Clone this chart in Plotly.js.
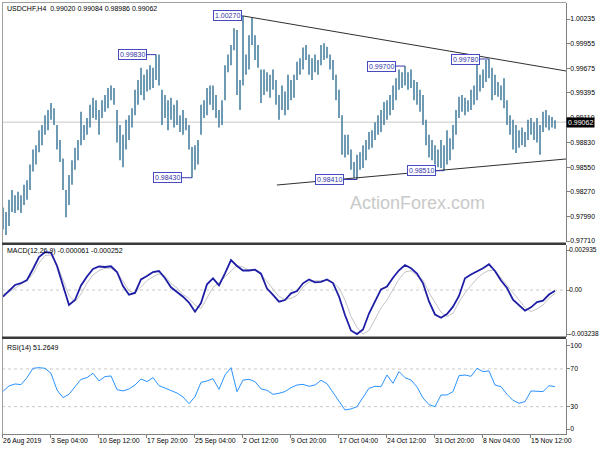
<!DOCTYPE html>
<html><head><meta charset="utf-8">
<script src="https://cdn.plot.ly/plotly-3.0.1.min.js"></script>
<style>html,body{margin:0;padding:0;background:#fff}#chart{width:600px;height:450px}</style>
</head><body><div id="chart"></div>
<script>
// ---- data ----
const symbolName = "USDCHF,H4";
const headerOHLC = [0.99020, 0.99084, 0.98986, 0.99062];
const barHigh = [
0.9809,0.9804,0.9818,0.9829,0.9823,0.9827,0.9823,0.9835,0.9840,0.9858,
0.9875,0.9880,0.9897,0.9903,0.9914,0.9920,0.9928,0.9922,0.9903,0.9886,
0.9865,0.9829,0.9846,0.9863,0.9877,0.9886,0.9918,0.9903,0.9911,0.9926,
0.9934,0.9931,0.9920,0.9931,0.9937,0.9945,0.9948,0.9945,0.9920,0.9903,
0.9892,0.9909,0.9914,0.9922,0.9943,0.9954,0.9968,0.9960,0.9966,0.9971,
0.9968,0.9983,0.9983,0.9943,0.9937,0.9931,0.9934,0.9926,0.9931,0.9914,
0.9920,0.9911,0.9903,0.9878,0.9880,0.9886,0.9926,0.9931,0.9945,0.9948,
0.9948,0.9937,0.9920,0.9931,0.9971,0.9983,0.9994,1.0013,1.0011,0.9954,
1.0027,0.9983,1.0005,1.0025,1.0005,0.9994,0.9966,0.9966,0.9963,0.9960,
0.9966,0.9954,0.9937,0.9948,0.9941,0.9960,0.9954,0.9960,0.9975,0.9979,
0.9991,0.9994,0.9983,0.9979,0.9983,0.9977,0.9994,0.9996,0.9992,0.9983,
0.9977,0.9960,0.9943,0.9914,0.9892,0.9892,0.9875,0.9861,0.9869,0.9872,
0.9880,0.9886,0.9895,0.9897,0.9906,0.9914,0.9920,0.9929,0.9931,0.9937,
0.9948,0.9956,0.9966,0.9963,0.9970,0.9963,0.9966,0.9954,0.9952,0.9943,
0.9937,0.9909,0.9892,0.9886,0.9880,0.9875,0.9886,0.9880,0.9897,0.9888,
0.9903,0.9920,0.9935,0.9937,0.9934,0.9931,0.9943,0.9948,0.9975,0.9960,
0.9966,0.9977,0.9978,0.9968,0.9960,0.9952,0.9948,0.9956,0.9931,0.9914,
0.9909,0.9903,0.9897,0.9900,0.9895,0.9909,0.9911,0.9906,0.9911,0.9903,
0.9918,0.9920,0.9914,0.9912,0.99084];
const barLow = [
0.9784,0.9778,0.9788,0.9804,0.9803,0.9806,0.9803,0.9812,0.9818,0.9829,
0.9850,0.9858,0.9872,0.9880,0.9892,0.9897,0.9909,0.9903,0.9875,0.9861,
0.9829,0.9798,0.9812,0.9835,0.9852,0.9863,0.9880,0.9886,0.9892,0.9900,
0.9911,0.9909,0.9892,0.9911,0.9918,0.9922,0.9931,0.9926,0.9883,0.9863,
0.9855,0.9875,0.9886,0.9900,0.9914,0.9926,0.9937,0.9931,0.9941,0.9943,
0.9945,0.9954,0.9948,0.9903,0.9911,0.9897,0.9909,0.9900,0.9903,0.9895,
0.9892,0.9897,0.9875,0.9843,0.9852,0.9858,0.9892,0.9911,0.9914,0.9926,
0.9920,0.9911,0.9900,0.9903,0.9931,0.9963,0.9971,0.9988,0.9937,0.9920,
0.9948,0.9960,0.9966,0.9994,0.9977,0.9968,0.9928,0.9937,0.9941,0.9934,
0.9943,0.9926,0.9909,0.9920,0.9914,0.9920,0.9931,0.9934,0.9954,0.9960,
0.9966,0.9977,0.9960,0.9954,0.9963,0.9960,0.9971,0.9977,0.9979,0.9966,
0.9954,0.9931,0.9911,0.9869,0.9866,0.9869,0.9852,0.9843,0.9841,0.9852,
0.9854,0.9863,0.9875,0.9877,0.9886,0.9892,0.9895,0.9903,0.9909,0.9914,
0.9920,0.9931,0.9943,0.9945,0.9948,0.9943,0.9945,0.9931,0.9926,0.9918,
0.9903,0.9880,0.9866,0.9863,0.9858,0.9855,0.9854,0.9851,0.9858,0.9863,
0.9875,0.9892,0.9911,0.9918,0.9914,0.9918,0.9920,0.9926,0.9931,0.9941,
0.9945,0.9952,0.9956,0.9931,0.9937,0.9935,0.9931,0.9922,0.9903,0.9892,
0.9875,0.9871,0.9877,0.9880,0.9878,0.9886,0.9892,0.9886,0.9883,0.9869,
0.9895,0.9900,0.9897,0.9900,0.98986];
const macdMain = [
-0.000492,-0.000096,0.000368,0.000500,0.000735,0.001544,0.002426,0.002778,0.002756,0.001764,
0.000316,-0.001103,-0.000735,0.000331,0.000992,0.001544,0.001727,0.001690,0.001742,0.001323,
0.000294,-0.000345,-0.000220,0.000772,0.001029,0.001323,0.001397,0.000860,0.000198,-0.000147,
-0.000492,-0.000919,-0.001595,-0.000955,0.000419,0.000860,0.000345,0.001227,0.002200,0.001764,
0.001433,0.001433,0.001492,0.001198,0.000110,-0.000353,-0.000860,-0.000735,-0.000243,-0.000073,
0.000492,0.000772,0.000566,0.000603,0.000772,0.000514,-0.000478,-0.001838,-0.002977,-0.003238,
-0.002903,-0.001727,-0.000808,0.000051,0.000257,0.000904,0.001448,0.001838,0.001595,0.001213,
0.000492,-0.000845,-0.001801,-0.002043,-0.001764,-0.001227,-0.000441,0.000860,0.001139,0.001360,
0.001595,0.001889,0.001397,0.000698,0.000147,-0.000713,-0.001154,-0.001521,-0.001272,-0.000882,
-0.000786,-0.000331,-0.000061];
const macdSignal = [
-0.000294,-0.000147,0.000125,0.000404,0.000735,0.001176,0.001985,0.002536,0.002573,0.001874,
0.000735,-0.000404,-0.000860,-0.000294,0.000514,0.001103,0.001433,0.001595,0.001595,0.001286,
0.000662,-0.000073,-0.000220,0.000257,0.000698,0.000970,0.001191,0.001029,0.000478,0.000147,
-0.000331,-0.000625,-0.001103,-0.001360,-0.000551,0.000184,0.000551,0.000956,0.001433,0.001801,
0.001690,0.001470,0.001470,0.001139,0.000625,0.000037,-0.000478,-0.000698,-0.000610,-0.000390,
0.000221,0.000588,0.000684,0.000684,0.000684,0.000551,0.000147,-0.000735,-0.001948,-0.002756,
-0.003234,-0.002977,-0.002205,-0.001323,-0.000735,0.000073,0.000808,0.001323,0.001411,0.001029,
0.000735,-0.000184,-0.000955,-0.001639,-0.001948,-0.001713,-0.000882,-0.000220,0.000331,0.000845,
0.001213,0.001448,0.001433,0.000882,0.000331,-0.000257,-0.000808,-0.001286,-0.001580,-0.001397,
-0.001103,-0.000600,-0.000252];
const rsiValues = [
46.3,52.0,54.1,53.4,60.8,70.7,71.4,70.7,65.4,47.7,
39.6,43.1,51.2,59.0,60.8,65.4,57.3,61.9,62.6,48.1,
46.7,48.8,53.0,59.4,56.6,60.8,52.3,49.5,47.4,44.5,
40.3,33.2,40.6,55.8,57.3,59.7,48.4,63.6,71.4,45.9,
58.3,59.0,56.6,48.8,47.4,43.1,44.2,46.0,50.2,53.0,
53.7,51.6,53.0,58.0,54.4,44.9,35.3,26.5,27.6,30.0,
39.9,49.5,51.6,51.2,63.6,54.8,67.2,60.8,58.3,50.9,
39.2,32.1,30.0,42.4,42.4,46.0,62.9,63.6,62.2,70.7,
67.2,67.9,53.0,51.2,43.1,36.7,33.6,35.3,46.7,46.0,
46.0,52.3,51.2649];
const timeLabels = ["26 Aug 2019","3 Sep 04:00","10 Sep 12:00","17 Sep 20:00","25 Sep 04:00",
  "2 Oct 12:00","9 Oct 20:00","17 Oct 04:00","24 Oct 12:00","31 Oct 20:00","8 Nov 04:00","15 Nov 12:00"];
const priceTickValues = [1.00235,0.99955,0.99675,0.99395,0.99110,0.98830,0.98550,0.98270,0.97990,0.97710];
const macdTickValues = [0.002935, 0, -0.003238];
const macdTickText = ["0.002935","0.00","-0.003238"];
const rsiLevels = [70, 30];
const swingBars = [80, 51, 63, 118, 134, 147, 162];
const swingPrices = [1.00270, 0.99830, 0.98430, 0.98410, 0.99700, 0.98510, 0.99780];
const trendUpperBars = [80, 187.67];
const trendUpperPrices = [1.00270, 0.99644];
const trendLowerBars = [91.3, 187.67];
const trendLowerPrices = [0.98347, 0.98643];

// ---- layout geometry ----
const W = 600, H = 450, ML = 2, MR = 34, MT = 3, MB = 16;
const PH = H - MT - MB;
const fy = py => (H - MB - py) / PH;   // pixel row -> paper fraction
const fx = px => (px - ML) / (W - ML - MR);
const FONT = "Liberation Sans, Arial, sans-serif";
const xRange = [-1/3, 188 - 1/3];

const segX = [], segY = [];
barHigh.forEach((h, i) => { segX.push(i, i, null); segY.push(barLow[i], h, null); });
const indX = macdMain.map((_, k) => 2 * k);

const traces = [
  {type:'scatter', mode:'lines', x:xRange, y:[headerOHLC[3], headerOHLC[3]], xaxis:'x', yaxis:'y',
   line:{color:'#c8c8c8', width:1}, hoverinfo:'skip', cliponaxis:true},
  {type:'scatter', mode:'lines', x:segX, y:segY, xaxis:'x', yaxis:'y',
   line:{color:'#4a82a0', width:1.6}, hoverinfo:'skip', connectgaps:false},
  {type:'scatter', mode:'lines', x:trendUpperBars, y:trendUpperPrices, xaxis:'x', yaxis:'y',
   line:{color:'#303030', width:1}, hoverinfo:'skip'},
  {type:'scatter', mode:'lines', x:trendLowerBars, y:trendLowerPrices, xaxis:'x', yaxis:'y',
   line:{color:'#303030', width:1}, hoverinfo:'skip'},
  {type:'scatter', mode:'lines', x:indX, y:macdSignal, xaxis:'x', yaxis:'y2',
   line:{color:'#c4c4c4', width:1}, hoverinfo:'skip'},
  {type:'scatter', mode:'lines', x:indX, y:macdMain, xaxis:'x', yaxis:'y2',
   line:{color:'#1d1da6', width:1.8}, hoverinfo:'skip'},
  {type:'scatter', mode:'lines', x:indX, y:rsiValues, xaxis:'x', yaxis:'y3',
   line:{color:'#2b93ff', width:1}, hoverinfo:'skip'}
];

const tickFont = {family:FONT, size:6.8, color:'#000'};
const yCommon = {side:'right', anchor:'x', showgrid:false, zeroline:false, showline:true,
  linecolor:'#808080', linewidth:1, ticks:'outside', ticklen:3, tickcolor:'#808080',
  tickfont:tickFont, fixedrange:true, ticklabelstandoff:-1};

const shapes = [
  {type:'line', xref:'paper', yref:'paper', x0:fx(2), x1:fx(566), y0:fy(2.5), y1:fy(2.5), line:{color:'#a0a0a0', width:1}},
  {type:'line', xref:'paper', yref:'paper', x0:fx(2.5), x1:fx(2.5), y0:fy(2.5), y1:fy(434), line:{color:'#a0a0a0', width:1}},
  {type:'rect', xref:'paper', yref:'paper', x0:fx(2), x1:fx(566), y0:fy(245), y1:fy(242.5), fillcolor:'#3a3a3a', line:{width:0}},
  {type:'rect', xref:'paper', yref:'paper', x0:fx(2), x1:fx(566), y0:fy(339), y1:fy(336.5), fillcolor:'#3a3a3a', line:{width:0}},
  {type:'line', xref:'paper', yref:'y2', x0:0, x1:1, y0:0, y1:0, line:{color:'#c8c8c8', width:1, dash:'3px,3px'}, layer:'below'}
];
rsiLevels.forEach(v => shapes.push({type:'line', xref:'paper', yref:'y3', x0:0, x1:1, y0:v, y1:v,
  line:{color:'#c8c8c8', width:1, dash:'3px,3px'}, layer:'below'}));

const annFont = {family:FONT, size:7, color:'#000'};
const annotations = [
  {xref:'paper', yref:'paper', x:fx(5), y:fy(8), xanchor:'left', yanchor:'middle', showarrow:false,
   text: symbolName + '  ' + headerOHLC.map(v => v.toFixed(5)).join(' '), font:annFont},
  {xref:'paper', yref:'paper', x:fx(5), y:fy(251.5), xanchor:'left', yanchor:'middle', showarrow:false,
   text: 'MACD(12,26,9) ' + macdMain[macdMain.length-1].toFixed(6) + ' ' + macdSignal[macdSignal.length-1].toFixed(6), font:annFont},
  {xref:'paper', yref:'paper', x:fx(5), y:fy(348), xanchor:'left', yanchor:'middle', showarrow:false,
   text: 'RSI(14) ' + rsiValues[rsiValues.length-1].toFixed(4), font:annFont},
  {xref:'paper', yref:'paper', x:fx(417), y:fy(203), xanchor:'center', yanchor:'middle', showarrow:false,
   text:'ActionForex.com', font:{family:FONT, size:18, color:'#c9c9c9'}},
  {xref:'paper', yref:'y', x:1, y:headerOHLC[3], xanchor:'left', yanchor:'middle', showarrow:false,
   text: headerOHLC[3].toFixed(5), bgcolor:'#000', borderpad:1, font:{family:FONT, size:7, color:'#fff'}}
];
const swingGap = [0, 8, 9, 12, 8, 7, 8];
swingBars.forEach((b, k) => annotations.push({
  xref:'x', yref:'y', x:b, y:swingPrices[k], ax:-(swingGap[k] + 16), ay:0,
  showarrow:true, arrowhead:0, arrowwidth:1, arrowcolor:'#3a3ab0', standoff:0,
  text: swingPrices[k].toFixed(5), bgcolor:'#fff', bordercolor:'#4a4ac0', borderwidth:1, borderpad:1,
  font:{family:FONT, size:7, color:'#3434a8'}
}));

const layout = {
  width:W, height:H, margin:{l:ML, r:MR, t:MT, b:MB}, paper_bgcolor:'#fff', plot_bgcolor:'#fff',
  showlegend:false, hovermode:false,
  xaxis:{domain:[0,1], range:xRange, anchor:'y3', showgrid:false, zeroline:false, showline:true,
    linecolor:'#808080', ticks:'outside', ticklen:3, tickcolor:'#808080', tickangle:0,
    tickvals: timeLabels.map((_, k) => 16 * k - 0.3), ticktext: timeLabels,
    ticklabelposition:'outside right', tickfont:tickFont, fixedrange:true, automargin:false},
  yaxis:Object.assign({}, yCommon, {domain:[fy(242), 1], range:[0.97699, 1.00417],
    tickvals:priceTickValues, ticktext:priceTickValues.map(v => v.toFixed(5))}),
  yaxis2:Object.assign({}, yCommon, {domain:[fy(336.5), fy(245)], range:[-0.003418, 0.003308],
    tickvals:macdTickValues, ticktext:macdTickText, ticklabelstandoff:-2, tickfont:{family:FONT, size:6.5, color:'#000'}}),
  yaxis3:Object.assign({}, yCommon, {domain:[0, fy(339)], range:[1.0, 101.8],
    tickvals:[94.4, 70, 30, 6.3], ticktext:['100','70','30','0']}),
  shapes, annotations
};
Plotly.newPlot('chart', traces, layout, {staticPlot:true, displayModeBar:false});
</script></body></html>
